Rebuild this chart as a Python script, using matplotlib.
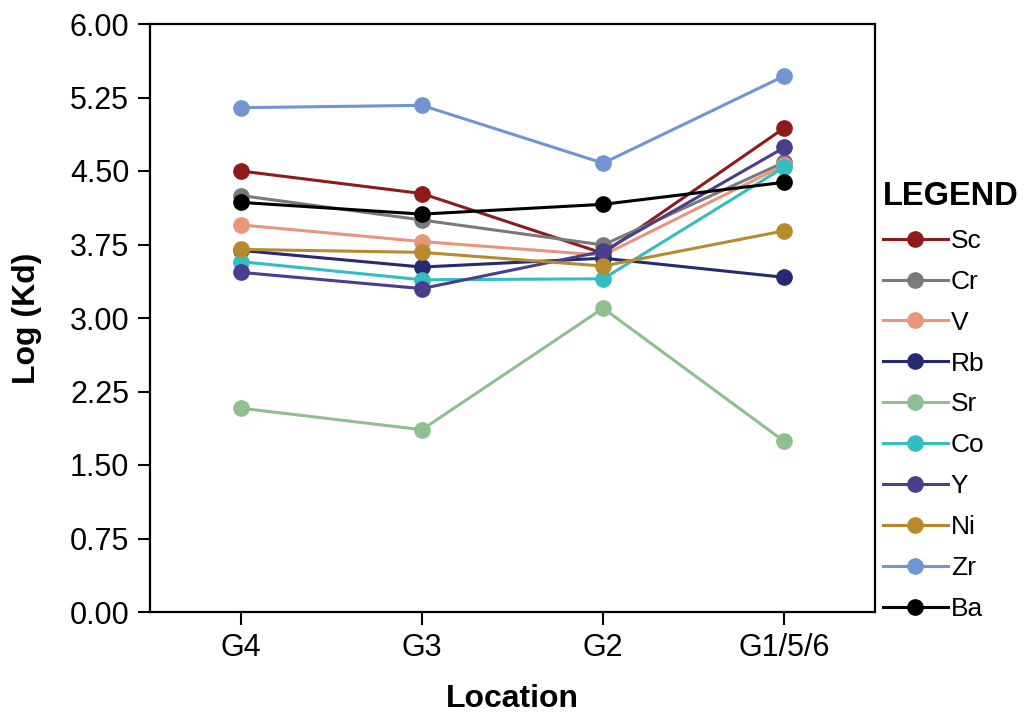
import numpy as np
import matplotlib
matplotlib.use('Agg')
import matplotlib.pyplot as plt

plt.rcParams['font.family'] = ['Liberation Sans', 'DejaVu Sans']

# locations along the x axis
locations = ['G4', 'G3', 'G2', 'G1/5/6']

# log(Kd) per element
sc = [4.50, 4.27, 3.66, 4.94]
cr = [4.25, 4.00, 3.745, 4.59]
v = [3.95, 3.78, 3.64, 4.56]
rb = [3.69, 3.52, 3.61, 3.415]
sr = [2.08, 1.86, 3.10, 1.74]
co = [3.575, 3.39, 3.40, 4.54]
y_el = [3.466, 3.30, 3.68, 4.74]
ni = [3.70, 3.67, 3.53, 3.89]
zr = [5.146, 5.17, 4.58, 5.47]
ba = [4.18, 4.06, 4.16, 4.385]

elements = ['Sc', 'Cr', 'V', 'Rb', 'Sr', 'Co', 'Y', 'Ni', 'Zr', 'Ba']
series = [sc, cr, v, rb, sr, co, y_el, ni, zr, ba]
colors = ['#8E1A1C', '#7A7A7A', '#E9957B', '#272A72', '#8FBF8F',
          '#33BDBF', '#4A3E8F', '#B88A2E', '#6F95D2', '#000000']

fig = plt.figure(figsize=(10.35, 7.17), dpi=100)
ax = fig.add_axes([150 / 1035, 1 - 612 / 717, 725 / 1035, 588 / 717])

x = np.arange(len(locations))
for name, vals, c in zip(elements, series, colors):
    ax.plot(x, vals, color=c, lw=2.2, marker='o', ms=11, label=name)

ax.set_xlim(-0.5, 3.5)
ax.set_ylim(0, 6)
yt = np.arange(0, 6.01, 0.75)
ax.set_yticks(yt)
ax.set_yticklabels(['%.2f' % t for t in yt])
ax.set_xticks(x)
ax.set_xticklabels(locations)
ax.tick_params(axis='both', labelsize=22, length=9, width=1.5, pad=6)
for s in ax.spines.values():
    s.set_linewidth(1.6)

ax.set_xlabel('Location', fontsize=23, fontweight='bold', labelpad=15)
ax.set_ylabel('Log (Kd)', fontsize=23, fontweight='bold', labelpad=20)

leg = fig.legend(loc='upper left', bbox_to_anchor=(883 / 1035, 1 - 181 / 717),
                 frameon=False, fontsize=19, title='LEGEND',
                 title_fontproperties={'weight': 'bold', 'size': 23.5},
                 handlelength=2.45, handletextpad=0.12, labelspacing=0.64,
                 borderpad=0, borderaxespad=0, alignment='left')

fig.savefig('out.png', dpi=100)
